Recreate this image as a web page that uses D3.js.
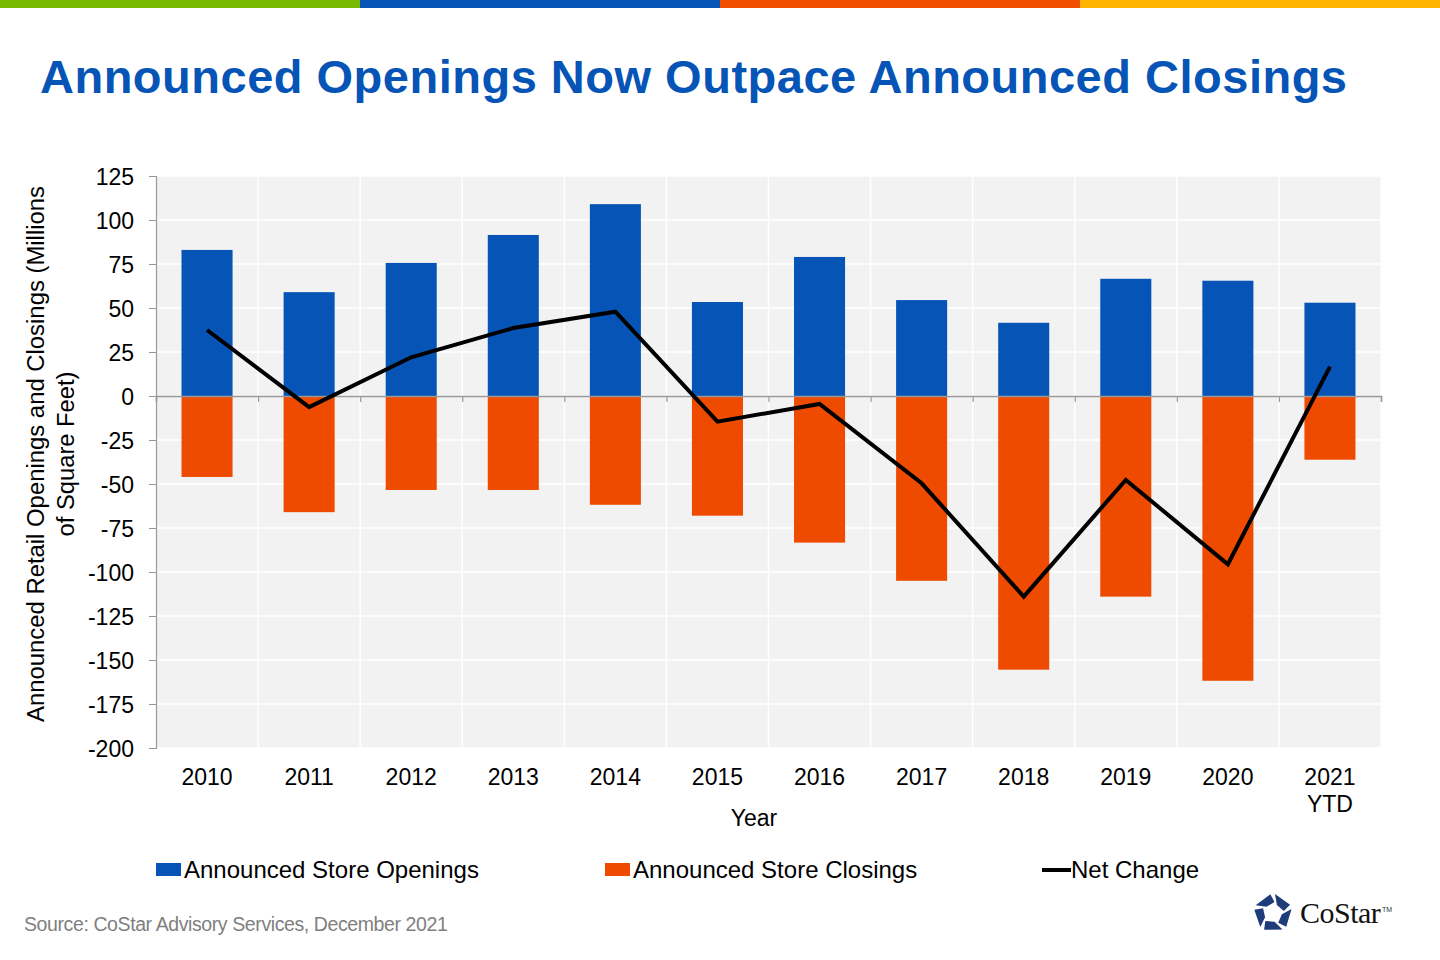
<!DOCTYPE html>
<html><head><meta charset="utf-8">
<script src="https://cdn.jsdelivr.net/npm/d3@7"></script>
<style>
html,body{margin:0;padding:0;background:#fff;}
svg{display:block;font-family:"Liberation Sans",Arial,sans-serif;}
</style></head>
<body>
<svg id="chart" width="1440" height="960"></svg>
<script>
const categories = ["2010","2011","2012","2013","2014","2015","2016","2017","2018","2019","2020","2021\nYTD"];
const openings = [83, 59, 75.6, 91.5, 109, 53.4, 79, 54.5, 41.6, 66.6, 65.5, 53];
const closings = [-46, -66, -53.4, -53.4, -61.8, -68, -83.3, -105, -155.5, -114, -161.8, -36.2];
const netChange = [37.5, -6.3, 22, 38.6, 47.9, -14.6, -4.5, -49.6, -114, -47.7, -95.6, 16.7];
const yTicks = [125, 100, 75, 50, 25, 0, -25, -50, -75, -100, -125, -150, -175, -200];
const legendLabels = ["Announced Store Openings", "Announced Store Closings", "Net Change"];
const topStripeColors = ["#76b900", "#0554b6", "#f04e00", "#ffb400"];

const C_BLUE = "#0554b6", C_ORANGE = "#ee4b00";

const svg = d3.select("#chart");
const L = 156, R = 1381, T = 176, B = 748;

// top stripes
svg.selectAll("rect.stripe").data(topStripeColors).join("rect")
  .attr("x", (d,i)=>i*360).attr("y",0).attr("width",360).attr("height",8).attr("fill",d=>d);

// title
svg.append("text").attr("x",40).attr("y",93)
  .attr("font-size",47).attr("font-weight","bold").attr("fill",C_BLUE)
  .attr("textLength",1307).attr("lengthAdjust","spacing")
  .text("Announced Openings Now Outpace Announced Closings");

const x = d3.scaleBand().domain(categories).range([L,R]).paddingInner(0.5).paddingOuter(0.25);
const xb = d3.scaleLinear().domain([0, categories.length]).range([L,R]);
const y = d3.scaleLinear().domain([-200,125]).range([B,T]);

// plot background
svg.append("rect").attr("x",L).attr("y",T).attr("width",R-L).attr("height",B-T).attr("fill","#f2f2f2");

// gridlines
svg.append("g").selectAll("line").data(yTicks).join("line")
  .attr("x1",L).attr("x2",R).attr("y1",d=>y(d)).attr("y2",d=>y(d))
  .attr("stroke","#fff").attr("stroke-width",1.5);
svg.append("g").selectAll("line").data(d3.range(1,categories.length+1)).join("line")
  .attr("x1",d=>xb(d)).attr("x2",d=>xb(d)).attr("y1",T).attr("y2",B)
  .attr("stroke","#fff").attr("stroke-width",1.5);

// bars
svg.append("g").selectAll("rect").data(openings).join("rect")
  .attr("x",(d,i)=>x(categories[i])).attr("width",x.bandwidth())
  .attr("y",d=>y(d)).attr("height",d=>y(0)-y(d)).attr("fill",C_BLUE);
svg.append("g").selectAll("rect").data(closings).join("rect")
  .attr("x",(d,i)=>x(categories[i])).attr("width",x.bandwidth())
  .attr("y",y(0)).attr("height",d=>y(d)-y(0)).attr("fill",C_ORANGE);

// y axis
const yAxis = d3.axisLeft(y).tickValues(yTicks).tickSize(7).tickPadding(8).tickFormat(d=>String(d));
const gy = svg.append("g").attr("transform",`translate(${L},0)`).call(yAxis);
gy.select(".domain").attr("stroke","#999").attr("stroke-width",1.2);
gy.selectAll(".tick line").attr("stroke","#999");
gy.selectAll(".tick text").attr("font-size",23).attr("fill","#000")
  .attr("font-family","'Liberation Sans',Arial,sans-serif").attr("dx",-7).attr("dy","0.36em");

// zero axis with category ticks
const gx = svg.append("g").attr("transform",`translate(0,${y(0)})`)
  .call(d3.axisBottom(xb).tickValues(d3.range(0,categories.length+1)).tickSize(6).tickFormat(""));
gx.select(".domain").attr("stroke","#999").attr("stroke-width",1.5);
gx.selectAll(".tick line").attr("stroke","#999").attr("stroke-width",1.2);

// net change line
const line = d3.line().x((d,i)=>x(categories[i])+x.bandwidth()/2).y(d=>y(d));
svg.append("path").datum(netChange).attr("d",line)
  .attr("fill","none").attr("stroke","#000").attr("stroke-width",4).attr("stroke-linejoin","miter");

// x labels
const xl = svg.append("g").selectAll("text").data(categories).join("text")
  .attr("x",d=>x(d)+x.bandwidth()/2).attr("y",785)
  .attr("text-anchor","middle").attr("font-size",23).attr("fill","#000");
xl.each(function(d){
  const parts = d.split("\n");
  d3.select(this).selectAll("tspan").data(parts).join("tspan")
    .attr("x",x(d)+x.bandwidth()/2).attr("dy",(p,j)=>j===0?0:27).text(p=>p);
});

svg.append("text").attr("x",754).attr("y",826).attr("text-anchor","middle")
  .attr("font-size",23).attr("fill","#000").text("Year");

// y title
const yt = svg.append("text").attr("transform","translate(44,454) rotate(-90)")
  .attr("text-anchor","middle").attr("font-size",23).attr("fill","#000");
yt.append("tspan").attr("x",0).attr("dy",0).attr("textLength",536).attr("lengthAdjust","spacingAndGlyphs")
  .text("Announced Retail Openings and Closings (Millions");
yt.append("tspan").attr("x",0).attr("dy",30).attr("textLength",165).attr("lengthAdjust","spacingAndGlyphs")
  .text("of Square Feet)");

// legend
const legX = [156, 605, 1042];
const lg = svg.append("g");
legendLabels.forEach((lab,i)=>{
  if(i<2){
    lg.append("rect").attr("x",legX[i]).attr("y",863).attr("width",25).attr("height",13)
      .attr("fill", i===0?C_BLUE:C_ORANGE);
  } else {
    lg.append("line").attr("x1",legX[i]).attr("x2",legX[i]+29).attr("y1",870).attr("y2",870)
      .attr("stroke","#000").attr("stroke-width",4);
  }
  lg.append("text").attr("x",legX[i]+(i<2?28:29)).attr("y",878).attr("font-size",24)
    .attr("fill","#000").text(lab);
});

// source
svg.append("text").attr("x",24).attr("y",931).attr("font-size",19.5).attr("fill","#7f7f7f")
  .attr("letter-spacing",-0.4).text("Source: CoStar Advisory Services, December 2021");

// logo: pentagon ring split into five pinwheel pieces
const logo = svg.append("g").attr("transform","translate(1273,913)");
const navy = "#1f3c7a";
const pt = (r,deg)=>[r*Math.cos(deg*Math.PI/180), r*Math.sin(deg*Math.PI/180)];
for(let k=0;k<5;k++){
  const a = -90 + k*72;
  const p = [pt(19,a+6), pt(19,a+64), pt(11,a+72+8), pt(9,a+26)];
  logo.append("path").attr("d","M"+p.map(q=>q.join(",")).join("L")+"Z").attr("fill",navy);
}
svg.append("text").attr("x",1300).attr("y",923).attr("font-family","'Liberation Serif','DejaVu Serif',serif")
  .attr("font-size",30).attr("fill","#111").attr("letter-spacing",-0.5).text("CoStar");
svg.append("text").attr("x",1382).attr("y",912).attr("font-size",7).attr("fill","#333").text("TM");
</script>
</body></html>
